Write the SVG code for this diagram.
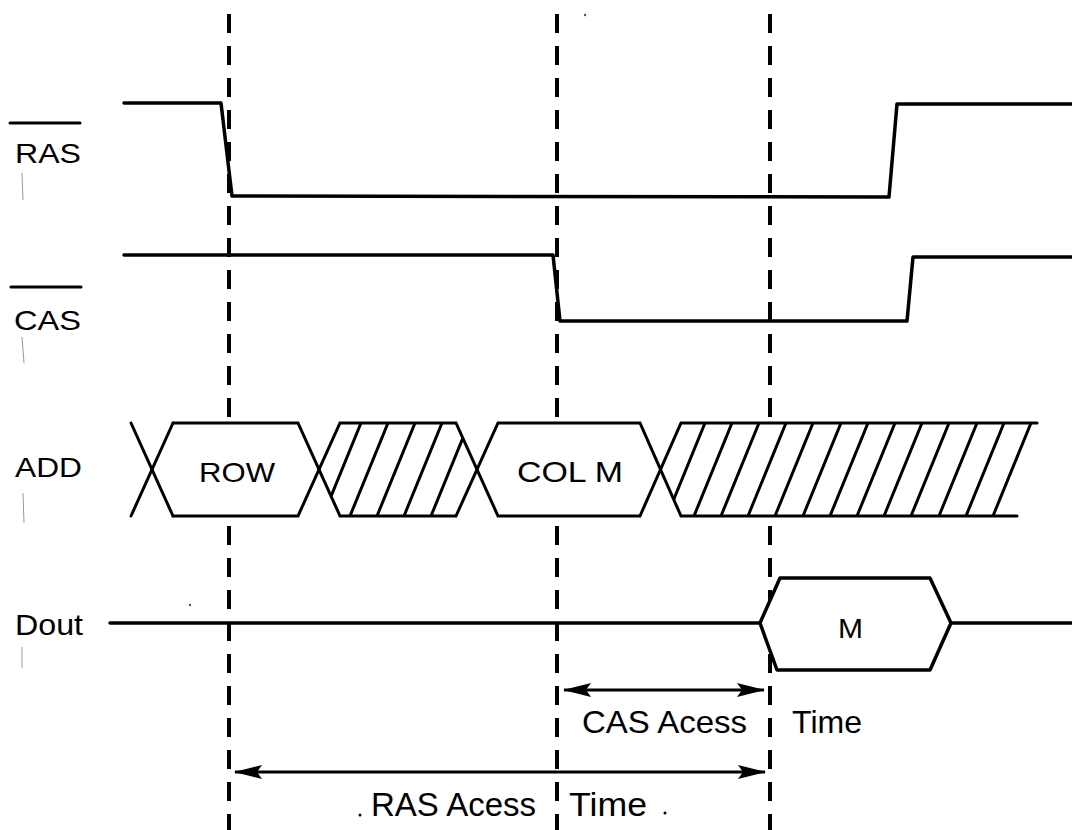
<svg xmlns="http://www.w3.org/2000/svg" width="1072" height="830" viewBox="0 0 1072 830">
<style>
.sig{fill:none;stroke:#000;stroke-width:3.5;stroke-linejoin:round;stroke-linecap:round}
.thin{fill:none;stroke:#000;stroke-width:3;stroke-linecap:round}
.bg{fill:#fff;stroke:none}
.dash{fill:none;stroke:#000;stroke-width:4;stroke-dasharray:19 13}
.lbl{font-family:"Liberation Sans",Arial,sans-serif;fill:#000}
.noise{stroke:#999;stroke-width:1;fill:none}
.arr{fill:none;stroke:#000;stroke-width:3}
</style>
<defs>
<marker id="ah" viewBox="0 0 28 14" refX="27" refY="7" markerWidth="28" markerHeight="14" markerUnits="userSpaceOnUse" orient="auto-start-reverse">
<path d="M0,0 L28,7 L0,14 L5,7 z" fill="#000"/>
</marker>
<clipPath id="h1"><polygon points="319,469.5 340,423 456,423 477,469.5 456,516 340,516"/></clipPath>
<clipPath id="h2"><polygon points="660,469.5 681,423 1040,423 1040,516 681,516"/></clipPath>
</defs>

<g id="labels">
<g id="lbl-ras"><line x1="10" y1="123" x2="80" y2="123" class="thin"/><text class="lbl" x="15" y="163" font-size="28" textLength="66" lengthAdjust="spacingAndGlyphs">RAS</text></g>
<g id="lbl-cas"><line x1="11" y1="287" x2="81" y2="287" class="thin"/><text class="lbl" x="14" y="330" font-size="28" textLength="67" lengthAdjust="spacingAndGlyphs">CAS</text></g>
<g id="lbl-add"><text class="lbl" x="15" y="477" font-size="28" textLength="67" lengthAdjust="spacingAndGlyphs">ADD</text></g>
<g id="lbl-dout"><text class="lbl" x="15" y="635" font-size="29" textLength="68" lengthAdjust="spacingAndGlyphs">Dout</text></g>
</g>

<g id="noise">
<line class="noise" x1="22" y1="173" x2="23" y2="200"/>
<line class="noise" x1="22" y1="337" x2="24" y2="363"/>
<line class="noise" x1="23" y1="493" x2="24" y2="523"/>
<line class="noise" x1="22" y1="647" x2="22" y2="668"/>
<circle cx="585" cy="15" r="1.2" fill="#555"/>
<circle cx="190" cy="605" r="1.2" fill="#555"/>
<circle cx="360" cy="815" r="1.5" fill="#000"/>
<circle cx="665" cy="813" r="1.5" fill="#000"/>
</g>

<g id="connectors">
<line class="dash" x1="229" y1="14" x2="229" y2="830"/>
<line class="dash" x1="557" y1="14" x2="557" y2="830"/>
<line class="dash" x1="770" y1="14" x2="770" y2="830"/>
<line class="arr" x1="564" y1="690" x2="764" y2="690" marker-start="url(#ah)" marker-end="url(#ah)"/>
<line class="arr" x1="235" y1="772" x2="765" y2="772" marker-start="url(#ah)" marker-end="url(#ah)"/>
</g>

<g id="sig-ras"><polyline class="sig" points="124,103 221,103 232,196 889,197 897,104 1072,104"/></g>
<g id="sig-cas"><polyline class="sig" points="124,255 553,255 560,321 907,321 913,257 1072,257"/></g>

<g id="sig-add">
<polygon class="bg" points="152,469.5 173,423 298,423 319,469.5 298,516 173,516"/>
<polygon class="bg" points="319,469.5 340,423 456,423 477,469.5 456,516 340,516"/>
<polygon class="bg" points="477,469.5 498,423 640,423 660,469.5 640,516 498,516"/>
<polygon class="bg" points="660,469.5 681,423 1031,423 993,516 681,516"/>
<g class="thin">
<line x1="131" y1="423" x2="173" y2="516"/>
<line x1="131" y1="516" x2="173" y2="423"/>
<polyline points="173,423 298,423 340,516 456,516 498,423 640,423 681,516 1017,516"/>
<polyline points="173,516 298,516 340,423 456,423 498,516 640,516 681,423 1037,423"/>
</g>
<g id="hatch1" clip-path="url(#h1)" class="thin">
<line x1="323" y1="516" x2="361" y2="423"/>
<line x1="350" y1="516" x2="388" y2="423"/>
<line x1="377" y1="516" x2="415" y2="423"/>
<line x1="404" y1="516" x2="442" y2="423"/>
<line x1="431" y1="516" x2="469" y2="423"/>
</g>
<g id="hatch2" clip-path="url(#h2)" class="thin">
<line x1="667" y1="516" x2="705" y2="423"/>
<line x1="694" y1="516" x2="732" y2="423"/>
<line x1="721" y1="516" x2="759" y2="423"/>
<line x1="748" y1="516" x2="786" y2="423"/>
<line x1="775" y1="516" x2="813" y2="423"/>
<line x1="803" y1="516" x2="841" y2="423"/>
<line x1="830" y1="516" x2="868" y2="423"/>
<line x1="857" y1="516" x2="895" y2="423"/>
<line x1="884" y1="516" x2="922" y2="423"/>
<line x1="911" y1="516" x2="949" y2="423"/>
<line x1="939" y1="516" x2="977" y2="423"/>
<line x1="966" y1="516" x2="1004" y2="423"/>
<line x1="993" y1="516" x2="1031" y2="423"/>
</g>
<text class="lbl" x="199" y="482" font-size="28" textLength="76" lengthAdjust="spacingAndGlyphs">ROW</text>
<text class="lbl" x="517" y="482" font-size="30" textLength="106" lengthAdjust="spacingAndGlyphs">COL M</text>
</g>

<g id="sig-dout">
<polygon class="bg" points="760,623 780,578 930,578 951,623 930,670 777,670"/>
<polyline class="sig" points="110,623 760,623 780,578 930,578 951,623 1072,623"/>
<polyline class="sig" points="760,623 777,670 930,670 951,623"/>
<text class="lbl" x="838" y="638" font-size="27" textLength="25" lengthAdjust="spacingAndGlyphs">M</text>
</g>

<g id="timing-labels">
<text class="lbl" x="582" y="733" font-size="32" textLength="165" lengthAdjust="spacingAndGlyphs">CAS Acess</text>
<text class="lbl" x="792" y="733" font-size="32" textLength="70" lengthAdjust="spacingAndGlyphs">Time</text>
<text class="lbl" x="371" y="816" font-size="33" textLength="165" lengthAdjust="spacingAndGlyphs">RAS Acess</text>
<text class="lbl" x="569" y="816" font-size="33" textLength="78" lengthAdjust="spacingAndGlyphs">Time</text>
</g>
</svg>
